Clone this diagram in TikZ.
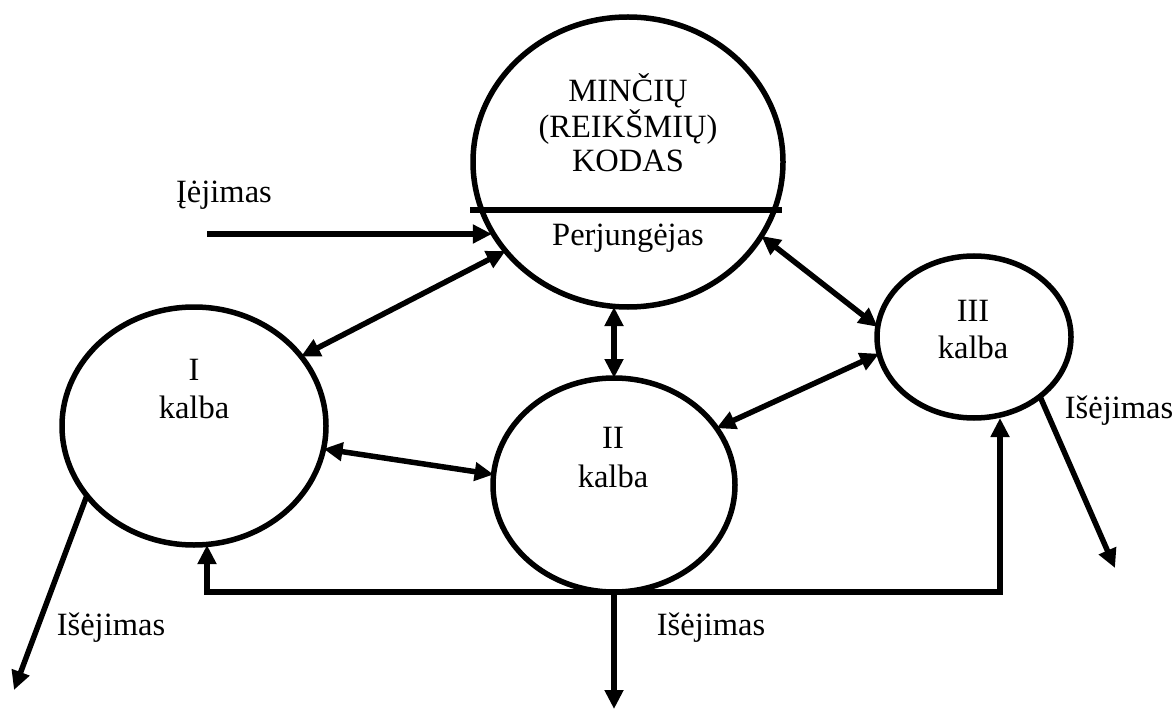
\documentclass[tikz,border=0pt]{standalone}
\usepackage{fontspec}
\setmainfont{Liberation Serif}
\usetikzlibrary{shapes.geometric,arrows.meta}
\begin{document}
\begin{tikzpicture}[x=1pt,y=-1pt,
  lw/.style={line width=5.5pt},
  oval/.style={draw,ellipse,line width=5.5pt,inner sep=0pt,outer sep=0pt},
  lbl/.style={anchor=base,inner sep=0pt,font=\fontsize{32.5}{37}\selectfont},
  tip/.style={-{Triangle[length=19pt,width=18pt]}},
  dtip/.style={{Triangle[length=19pt,width=18pt]}-{Triangle[length=19pt,width=18pt]}}]
\useasboundingbox (0,0) rectangle (1174,711);
% circles
\node[oval,minimum width=310pt,minimum height=290pt] (big) at (628,162) {};
\node[oval,minimum width=264pt,minimum height=238pt] (I) at (194,426) {};
\node[oval,minimum width=242pt,minimum height=214pt] (II) at (614,485) {};
\node[oval,minimum width=194pt,minimum height=162pt] (III) at (974,337) {};
% divider in the big circle
\draw[lw] (470,210) coordinate (dl) -- (782,210) coordinate (dr);
% texts
\node[lbl] (t1) at (628,102) {MINČIŲ};
\node[lbl] (t2) at (628,138) {(REIKŠMIŲ)};
\node[lbl] (t3) at (628,172) {KODAS};
\node[lbl] (t4) at (628,245) {Perjungėjas};
\node[lbl] (tI1) at (194,380) {I};
\node[lbl] (tI2) at (194,418) {kalba};
\node[lbl] (tII1) at (613,448) {II};
\node[lbl] (tII2) at (613,487) {kalba};
\node[lbl] (tIII1) at (973,321) {III};
\node[lbl] (tIII2) at (973,358) {kalba};
\node[lbl] (in) at (224,203) {Įėjimas};
\node[lbl] (o1) at (111,635) {Išėjimas};
\node[lbl] (o2) at (711,635) {Išėjimas};
\node[lbl] (o3) at (1119,418) {Išėjimas};
% free ends
\coordinate (inS) at (207,234);
\coordinate (bl) at (207,592);
\coordinate (br) at (1000,592);
\coordinate (outI) at (14,690);
\coordinate (outII) at (614,709);
\coordinate (outIII) at (1115,568);
% connectors
\draw[lw,tip] (inS) -- (big.207.6 |- inS);
\draw[lw,dtip] (I.33.8) -- (big.216);
\draw[lw,dtip] (II.north) -- (II.north |- big.south);
\draw[lw,dtip] (big.-29) -- (III.174.6);
\draw[lw,dtip] (II.29.9) -- (III.190.7);
\draw[lw,dtip] (I.-10.2) -- (II.175.3);
\draw[lw,dtip] (bl |- I.south) -- (bl) -- (br) -- (br |- III.south);
\draw[lw,tip] (II.south) -- (outII);
\draw[lw,tip] (I.213.4) -- (outI);
\draw[lw,tip] (III.-42.1) -- (outIII);
\end{tikzpicture}
\end{document}
